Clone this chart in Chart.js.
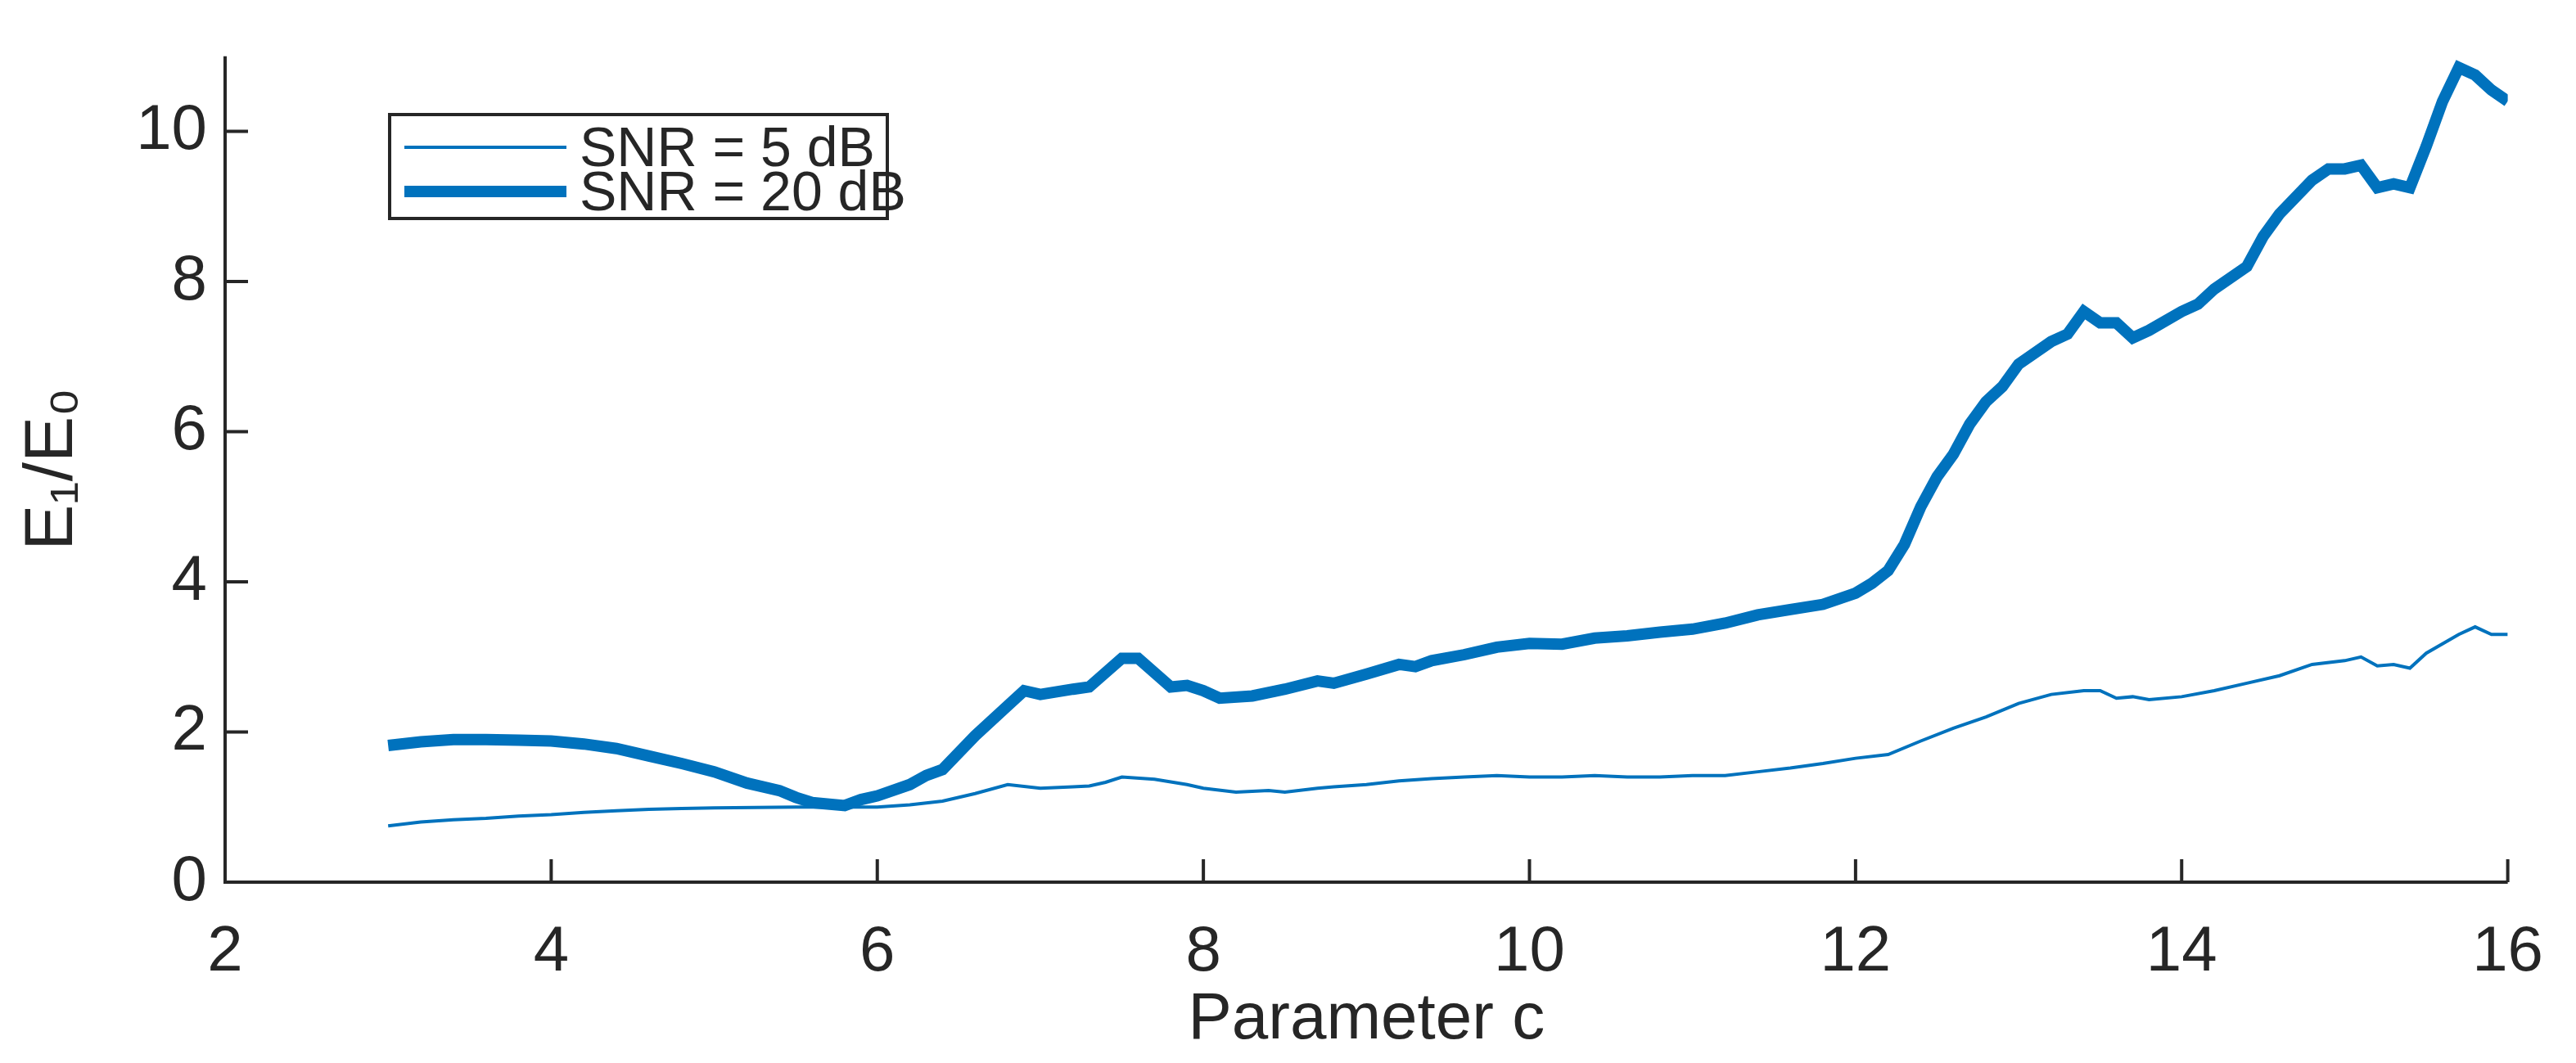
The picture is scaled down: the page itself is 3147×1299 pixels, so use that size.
<!DOCTYPE html>
<html>
<head>
<meta charset="utf-8">
<script src="https://cdn.jsdelivr.net/npm/chart.js@4/dist/chart.umd.min.js"></script>
<style>
  html, body { margin: 0; padding: 0; background: #fff; }
  #wrap { width: 3147px; height: 1299px; }
</style>
</head>
<body>
<div id="wrap"><canvas id="grafico"></canvas></div>
<script>
// valores
const cX20 = [3.0,3.2,3.4,3.6,3.8,4.0,4.2,4.4,4.6,4.8,5.0,5.2,5.4,5.5,5.6,5.8,5.9,6.0,6.2,6.3,6.4,6.6,6.8,6.9,7.0,7.2,7.3,7.5,7.6,7.8,7.9,8.0,8.1,8.3,8.5,8.7,8.8,9.0,9.2,9.3,9.4,9.6,9.8,10.0,10.2,10.4,10.6,10.8,11.0,11.2,11.4,11.6,11.8,12.0,12.1,12.2,12.3,12.4,12.5,12.6,12.7,12.8,12.9,13.0,13.2,13.3,13.4,13.5,13.6,13.7,13.8,14.0,14.1,14.2,14.4,14.5,14.6,14.8,14.9,15.0,15.1,15.2,15.3,15.4,15.5,15.6,15.7,15.8,15.9,16.0];
const snr20 = [1.82,1.87,1.9,1.9,1.89,1.88,1.84,1.78,1.68,1.58,1.47,1.32,1.22,1.13,1.06,1.02,1.1,1.15,1.3,1.42,1.5,1.95,2.35,2.55,2.5,2.57,2.6,2.98,2.98,2.6,2.62,2.55,2.45,2.48,2.57,2.68,2.65,2.77,2.9,2.87,2.95,3.03,3.13,3.18,3.17,3.25,3.28,3.33,3.37,3.45,3.56,3.63,3.7,3.85,3.98,4.15,4.5,5.0,5.4,5.7,6.1,6.4,6.6,6.9,7.2,7.3,7.6,7.45,7.45,7.25,7.35,7.6,7.7,7.9,8.2,8.6,8.9,9.35,9.5,9.5,9.55,9.25,9.3,9.25,9.8,10.4,10.85,10.75,10.55,10.4];
const cX5 = [3.0,3.2,3.4,3.6,3.8,4.0,4.2,4.4,4.6,4.8,5.0,5.5,6.0,6.2,6.4,6.6,6.8,7.0,7.2,7.3,7.4,7.5,7.7,7.9,8.0,8.2,8.4,8.5,8.7,8.8,9.0,9.2,9.4,9.6,9.8,10.0,10.2,10.4,10.6,10.8,11.0,11.2,11.4,11.6,11.8,12.0,12.2,12.4,12.6,12.8,13.0,13.2,13.4,13.5,13.6,13.7,13.8,14.0,14.2,14.4,14.6,14.8,15.0,15.1,15.2,15.3,15.4,15.5,15.7,15.8,15.9,16.0];
const snr5 = [0.75,0.8,0.83,0.85,0.88,0.9,0.93,0.95,0.97,0.98,0.99,1.0,1.0,1.03,1.08,1.18,1.3,1.25,1.27,1.28,1.33,1.4,1.37,1.3,1.25,1.2,1.22,1.2,1.25,1.27,1.3,1.35,1.38,1.4,1.42,1.4,1.4,1.42,1.4,1.4,1.42,1.42,1.47,1.52,1.58,1.65,1.7,1.88,2.05,2.2,2.38,2.5,2.55,2.55,2.45,2.47,2.43,2.47,2.55,2.65,2.75,2.9,2.95,3.0,2.88,2.9,2.85,3.05,3.3,3.4,3.3,3.3];
const yEtiquetas = [0, 1, 2, 4, 6, 8, 10];
const nombres = ['SNR = 5 dB', 'SNR = 20 dB'];

const azul = '#0072BD';
const gris = '#262626';
const fuente = '"Liberation Sans", Arial, sans-serif';

// ticks hacia dentro y leyenda dentro del area, estilo MATLAB
const estiloMatlab = {
  id: 'estiloMatlab',
  afterDraw(chart) {
    const ctx = chart.ctx, x = chart.scales.x, y = chart.scales.y, a = chart.chartArea;
    ctx.save();
    ctx.strokeStyle = gris;
    ctx.lineWidth = 4;
    ctx.beginPath();
    ctx.moveTo(a.left, a.top); ctx.lineTo(a.left, a.bottom); ctx.lineTo(a.right, a.bottom);
    x.ticks.forEach(t => {
      const px = x.getPixelForValue(t.value);
      ctx.moveTo(px, a.bottom); ctx.lineTo(px, a.bottom - 28);
    });
    y.ticks.forEach(t => {
      const py = y.getPixelForValue(t.value);
      ctx.moveTo(a.left, py); ctx.lineTo(a.left + 28, py);
    });
    ctx.stroke();

    // leyenda
    const lx = 476, ly = 140, lw = 608, lh = 127;
    ctx.fillStyle = '#fff';
    ctx.fillRect(lx, ly, lw, lh);
    ctx.lineWidth = 4;
    ctx.strokeRect(lx, ly, lw, lh);
    ctx.strokeStyle = azul;
    ctx.lineWidth = 4;
    ctx.beginPath(); ctx.moveTo(494, 180); ctx.lineTo(692, 180); ctx.stroke();
    ctx.lineWidth = 14;
    ctx.beginPath(); ctx.moveTo(494, 234); ctx.lineTo(692, 234); ctx.stroke();
    ctx.fillStyle = gris;
    ctx.font = '68px ' + fuente;
    ctx.textBaseline = 'middle';
    ctx.fillText(nombres[0], 708, 184);
    ctx.fillText(nombres[1], 708, 238);
    ctx.restore();
  }
};

new Chart(document.getElementById('grafico'), {
  type: 'line',
  data: {
    datasets: [
      { label: nombres[0], data: cX5.map((c, i) => ({ x: c, y: snr5[i] })),
        borderColor: azul, borderWidth: 4, pointRadius: 0, fill: false },
      { label: nombres[1], data: cX20.map((c, i) => ({ x: c, y: snr20[i] })),
        borderColor: azul, borderWidth: 14, pointRadius: 0, fill: false }
    ]
  },
  options: {
    responsive: true,
    maintainAspectRatio: false,
    animation: false,
    layout: { padding: { top: 6, right: 45, left: 10 } },
    plugins: { legend: { display: false }, tooltip: { enabled: false } },
    scales: {
      x: {
        type: 'linear', min: 2, max: 16,
        grid: { display: false, drawTicks: false },
        border: { display: false },
        ticks: { stepSize: 2, color: gris, padding: 40, font: { family: fuente, size: 78 } },
        title: { display: true, text: 'Parameter c', color: gris, padding: { top: 14 },
                 font: { family: fuente, size: 80 } },
        afterFit(s) { s.height = 221; }
      },
      y: {
        min: 0, max: 11,
        grid: { display: false, drawTicks: false },
        border: { display: false },
        ticks: { stepSize: 1, color: gris, padding: 22, font: { family: fuente, size: 78 },
                 callback: v => yEtiquetas.includes(v) ? v : '' },
        title: { display: true, text: 'E₁/E₀', color: gris, font: { family: fuente, size: 84 } },
        afterFit(s) { s.width = 265; }
      }
    }
  },
  plugins: [estiloMatlab]
});
</script>
</body>
</html>
